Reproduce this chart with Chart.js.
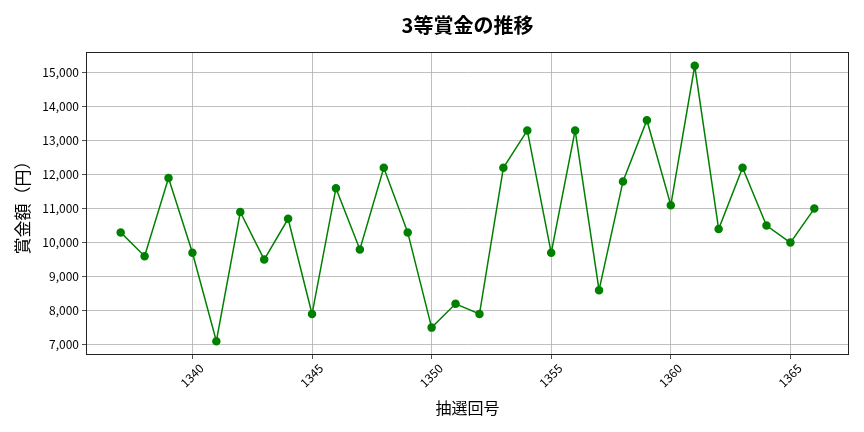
<!DOCTYPE html>
<html>
<head>
<meta charset="utf-8">
<script src="https://cdn.jsdelivr.net/npm/chart.js@4"></script>
<style>
  html, body { margin: 0; padding: 0; background: #fff; }
  #wrap { width: 864px; height: 432px; }
</style>
</head>
<body>
<div id="wrap"><canvas id="myChart" width="864" height="432"></canvas></div>
<script>
// 抽選回号と3等賞金（円）
const draws = [1337, 1338, 1339, 1340, 1341, 1342, 1343, 1344, 1345, 1346,
               1347, 1348, 1349, 1350, 1351, 1352, 1353, 1354, 1355, 1356,
               1357, 1358, 1359, 1360, 1361, 1362, 1363, 1364, 1365, 1366];
const prizes = [10300, 9600, 11900, 9700, 7100, 10900, 9500, 10700, 7900, 11600,
                9800, 12200, 10300, 7500, 8200, 7900, 12200, 13300, 9700, 13300,
                8600, 11800, 13600, 11100, 15200, 10400, 12200, 10500, 10000, 11000];
const xTicks = [1340, 1345, 1350, 1355, 1360, 1365];
const yTicks = [7000, 8000, 9000, 10000, 11000, 12000, 13000, 14000, 15000];
const chartTitle = '3等賞金の推移';

const fontFamily = '"Noto Sans CJK JP", "Noto Sans", sans-serif';

// 枠線（四辺）とタイトル（プロット領域の中央に置く）
const frameBox = {
    id: 'frameBox',
    afterDraw(chart) {
        const a = chart.chartArea;
        const c = chart.ctx;
        c.save();
        c.strokeStyle = '#222';
        c.lineWidth = 1;
        c.strokeRect(a.left + 0.5, a.top + 0.5, a.right - a.left - 1, a.bottom - a.top - 1);
        c.fillStyle = '#000';
        c.font = 'bold 20px ' + fontFamily;
        c.textAlign = 'center';
        c.textBaseline = 'middle';
        c.fillText(chartTitle, (a.left + a.right) / 2, 25);
        c.restore();
    }
};

const ctx = document.getElementById('myChart');
const myChart = new Chart(ctx, {
    type: 'line',
    data: {
        datasets: [{
            data: draws.map((d, i) => ({ x: d, y: prizes[i] })),
            borderColor: '#008000',
            backgroundColor: '#008000',
            borderWidth: 1.5,
            pointRadius: 3.5,
            pointHoverRadius: 3.5,
            tension: 0
        }]
    },
    options: {
        responsive: false,
        devicePixelRatio: 1,
        animation: false,
        layout: { padding: { left: 0, right: 15, top: 52, bottom: 0 } },
        plugins: {
            legend: { display: false },
            tooltip: { enabled: false },
            title: { display: false }
        },
        scales: {
            x: {
                type: 'linear',
                min: 1335.55,
                max: 1367.45,
                afterBuildTicks: scale => { scale.ticks = xTicks.map(v => ({ value: v })); },
                afterFit: scale => { scale.height = 77; },
                border: { display: false },
                grid: { color: '#b0b0b0', lineWidth: 0.8, tickColor: '#222', tickLength: 4 },
                ticks: {
                    color: '#000',
                    minRotation: 45,
                    maxRotation: 45,
                    padding: 2,
                    labelOffset: 9,
                    font: { family: fontFamily, size: 12 },
                    callback: v => String(v)
                },
                title: {
                    display: true,
                    text: '抽選回号',
                    color: '#000',
                    font: { family: fontFamily, size: 16 },
                    padding: { top: 4, bottom: 14 }
                }
            },
            y: {
                min: 6695,
                max: 15605,
                afterBuildTicks: scale => { scale.ticks = yTicks.map(v => ({ value: v })); },
                afterFit: scale => { scale.width = 86; },
                border: { display: false },
                grid: { color: '#b0b0b0', lineWidth: 0.8, tickColor: '#222', tickLength: 4 },
                ticks: {
                    color: '#000',
                    padding: 3,
                    font: { family: fontFamily, size: 12 },
                    callback: v => v.toLocaleString('en-US')
                },
                title: {
                    display: true,
                    text: '賞金額（円）',
                    color: '#000',
                    font: { family: fontFamily, size: 17 },
                    padding: { top: 12, bottom: 4 }
                }
            }
        }
    },
    plugins: [frameBox]
});
</script>
</body>
</html>
